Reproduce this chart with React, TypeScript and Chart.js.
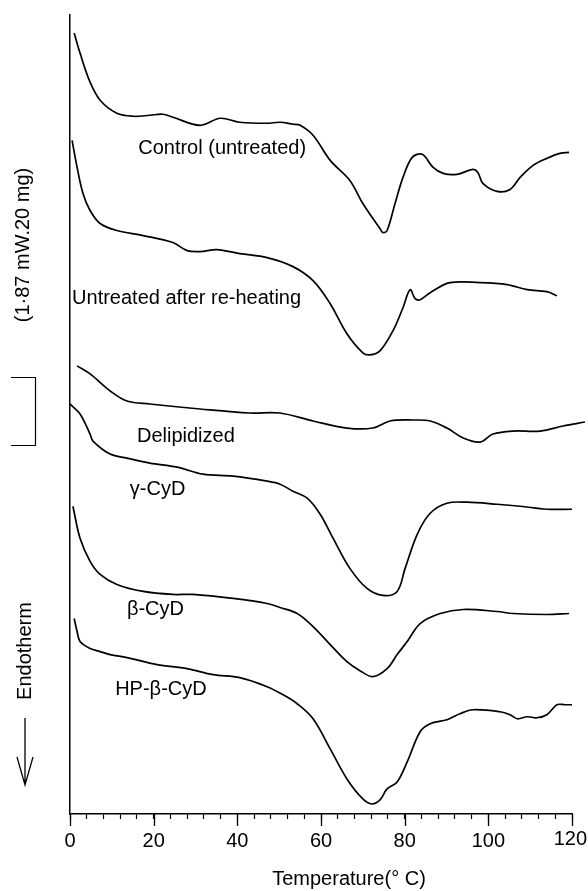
import React, { useEffect, useRef } from 'react';
import { Chart, registerables } from 'chart.js';

Chart.register(...registerables);

const FONT = '"Liberation Sans", Arial, Helvetica, sans-serif';

// Temperature (°C) and heat-flow signal (arbitrary offset units) per thermogram
const controlT = [1.0, 2.4, 4.8, 7.2, 11.2, 15.1, 19.1, 22.2, 24.6, 31.1, 35.9, 40.6, 47.1, 50.2, 53.3, 55.0, 58.1, 62.2, 66.9, 70.0, 74.1, 74.8, 75.8, 77.7, 79.6, 81.8, 84.2, 86.8, 89.2, 92.5, 96.3, 97.5, 98.7, 102.1, 105.2, 107.6, 110.7, 114.0, 117.1, 119.3];
const controlV = [77.9, 75.9, 73.0, 71.2, 69.9, 69.6, 69.7, 69.8, 69.5, 68.7, 69.4, 69.0, 68.9, 69.0, 68.8, 68.7, 67.7, 65.2, 63.2, 60.9, 58.4, 58.0, 58.2, 60.9, 63.5, 65.5, 65.8, 64.5, 63.9, 63.8, 64.3, 64.0, 62.9, 62.1, 62.3, 63.5, 64.7, 65.4, 65.9, 66.0];

const reheatT = [0.5, 1.7, 3.1, 4.8, 7.2, 11.2, 17.5, 24.6, 28.0, 31.1, 35.1, 40.6, 47.1, 53.3, 58.1, 62.2, 66.2, 70.0, 71.7, 74.1, 77.2, 79.6, 81.3, 82.5, 83.7, 86.1, 90.8, 98.0, 104.5, 109.3, 114.0, 116.4];
const reheatV = [67.2, 64.5, 61.9, 60.2, 58.9, 58.2, 57.7, 57.0, 56.2, 56.1, 56.3, 55.9, 55.5, 54.6, 53.2, 50.9, 47.9, 46.0, 45.8, 46.2, 48.2, 50.5, 52.3, 51.4, 51.3, 52.0, 53.0, 53.0, 52.8, 52.3, 52.1, 51.7];

const delipT = [1.7, 4.8, 9.6, 13.6, 19.1, 31.1, 43.0, 50.2, 58.1, 66.2, 72.4, 76.5, 82.0, 86.1, 90.1, 94.0, 98.0, 101.1, 105.9, 112.4, 117.9, 123.1];
const delipV = [44.7, 43.9, 42.2, 41.2, 40.9, 40.4, 40.0, 40.0, 39.2, 38.5, 38.5, 39.2, 39.3, 39.2, 38.5, 37.5, 37.1, 37.9, 38.2, 38.2, 38.7, 39.1];

const gammaT = [0.0, 2.4, 4.8, 5.5, 9.6, 13.6, 19.1, 25.6, 31.8, 39.0, 47.1, 50.2, 53.3, 56.7, 59.8, 62.9, 66.9, 71.0, 74.8, 78.2, 80.1, 83.0, 86.1, 90.1, 94.9, 102.1, 107.6, 114.0, 120.0];
const gammaV = [40.9, 39.9, 37.9, 37.2, 35.9, 35.5, 35.0, 34.6, 33.9, 33.7, 33.2, 32.9, 32.2, 31.5, 29.9, 27.5, 24.5, 22.5, 21.8, 22.2, 24.5, 27.9, 30.0, 31.0, 31.1, 30.9, 30.7, 30.4, 30.4];

const betaT = [0.7, 2.4, 4.8, 7.2, 11.2, 17.5, 24.6, 29.4, 39.0, 47.1, 50.2, 54.3, 58.1, 62.2, 66.2, 69.3, 72.4, 75.8, 78.2, 80.6, 83.7, 88.5, 94.0, 102.1, 105.9, 114.0, 119.3];
const betaV = [30.7, 27.5, 25.2, 23.9, 22.9, 22.2, 21.9, 21.9, 21.5, 21.0, 20.6, 20.0, 18.7, 16.9, 15.2, 14.3, 13.7, 14.5, 15.9, 17.2, 19.0, 20.0, 20.4, 20.2, 20.0, 19.9, 20.0];

const hpT = [1.0, 1.7, 2.4, 4.8, 7.2, 9.6, 13.6, 20.8, 28.0, 34.2, 40.6, 47.1, 50.9, 54.3, 58.1, 62.2, 66.2, 70.0, 72.2, 74.1, 75.8, 78.2, 80.6, 83.7, 86.1, 90.1, 93.2, 96.3, 102.8, 105.2, 106.9, 109.3, 111.6, 114.0, 116.4, 118.3, 120.0];
const hpV = [19.5, 18.2, 17.2, 16.5, 16.2, 15.9, 15.6, 14.9, 14.5, 13.9, 13.6, 12.7, 11.9, 11.0, 9.5, 6.5, 3.5, 1.5, 1.0, 1.4, 2.5, 3.2, 5.2, 8.2, 9.0, 9.4, 10.0, 10.4, 10.2, 9.9, 9.5, 9.7, 9.6, 9.9, 10.9, 10.9, 10.9];

const curveNames = ['Control (untreated)', 'Untreated after re-heating', 'Delipidized', 'γ-CyD', 'β-CyD', 'HP-β-CyD'];
const seriesT = [controlT, reheatT, delipT, gammaT, betaT, hpT];
const seriesV = [controlV, reheatV, delipV, gammaV, betaV, hpV];

const xMajorTicks = [0, 20, 40, 60, 80, 100, 120];
const xMax = 120;
const xTitle = 'Temperature(° C)';
const scaleText = '(1·87 mW.20 mg)';
const endoText = 'Endotherm';

// label anchors (data coordinates, left-aligned)
const labelAnchorT = [16.3, 0.5, 16.0, 14.3, 13.6, 10.8];
const labelAnchorV = [66.4, 51.4, 37.7, 32.4, 20.4, 12.4];
const scaleBarTop = 43.6;
const scaleBarBottom = 36.8;

const decorPlugin = {
  id: 'decor',
  afterDraw(chart: any) {
    const { ctx, chartArea } = chart;
    const x = chart.scales.x;
    const y = chart.scales.y;
    ctx.save();
    ctx.strokeStyle = '#000';
    ctx.lineWidth = 1.3;
    // longer major ticks
    for (const v of xMajorTicks) {
      const px = Math.round(x.getPixelForValue(v)) + 0.5;
      ctx.beginPath();
      ctx.moveTo(px, chartArea.bottom);
      ctx.lineTo(px, chartArea.bottom + 12);
      ctx.stroke();
    }
    ctx.fillStyle = '#000';
    ctx.font = `20px ${FONT}`;
    // last tick label, nudged left so it stays on the page
    ctx.textAlign = 'right';
    ctx.textBaseline = 'top';
    ctx.fillText(String(xMax), 587, chartArea.bottom + 15);
    // axis title
    ctx.textAlign = 'center';
    ctx.textBaseline = 'middle';
    ctx.fillText(xTitle, (chartArea.left + chartArea.right) / 2 + 28, 879.5);
    // curve labels
    ctx.textAlign = 'left';
    ctx.textBaseline = 'middle';
    curveNames.forEach((t, i) => {
      ctx.fillText(t, x.getPixelForValue(labelAnchorT[i]), y.getPixelForValue(labelAnchorV[i]));
    });
    // scale bar
    const top = Math.round(y.getPixelForValue(scaleBarTop)) + 0.5;
    const bot = Math.round(y.getPixelForValue(scaleBarBottom)) + 0.5;
    ctx.lineWidth = 1.2;
    ctx.beginPath();
    ctx.moveTo(11, top); ctx.lineTo(36, top);
    ctx.moveTo(35.5, top); ctx.lineTo(35.5, bot);
    ctx.moveTo(11, bot); ctx.lineTo(36, bot);
    ctx.stroke();
    // rotated side texts
    ctx.textAlign = 'center';
    ctx.save();
    ctx.translate(23, 245);
    ctx.rotate(-Math.PI / 2);
    ctx.fillText(scaleText, 0, 0);
    ctx.restore();
    ctx.save();
    ctx.translate(25, 651);
    ctx.rotate(-Math.PI / 2);
    ctx.fillText(endoText, 0, 0);
    ctx.restore();
    // arrow
    ctx.lineWidth = 1.3;
    ctx.beginPath();
    ctx.moveTo(25, 718); ctx.lineTo(25, 785);
    ctx.moveTo(17, 757); ctx.lineTo(25, 785); ctx.lineTo(33, 757);
    ctx.stroke();
    ctx.restore();
  },
};

export default function App() {
  const ref = useRef<HTMLCanvasElement | null>(null);
  useEffect(() => {
    if (!ref.current) return;
    const datasets = seriesT.map((ts, i) => ({
      label: curveNames[i],
      data: ts.map((t, j) => ({ x: t, y: seriesV[i][j] })),
      borderColor: '#000',
      borderWidth: 1.7,
      pointRadius: 0,
      tension: 0.35,
      fill: false,
      clip: false as any,
    }));
    const chart = new Chart(ref.current, {
      type: 'line',
      data: { datasets },
      plugins: [decorPlugin],
      options: {
        animation: false,
        responsive: false,
        devicePixelRatio: 1,
        layout: { padding: { left: 70, top: 15, right: 16, bottom: 28 } },
        plugins: { legend: { display: false }, tooltip: { enabled: false } },
        scales: {
          x: {
            type: 'linear',
            min: 0,
            max: xMax,
            afterFit: (scale: any) => {
              scale.paddingRight = 0;
              scale.paddingLeft = 0;
            },
            ticks: {
              stepSize: 4,
              autoSkip: false,
              maxRotation: 0,
              padding: 10,
              color: '#000',
              font: { family: FONT, size: 20 },
              callback: (v: any) => (Number(v) % 20 === 0 && Number(v) !== xMax ? String(v) : ''),
            },
            grid: { drawOnChartArea: false, drawTicks: true, tickLength: 5, tickColor: '#000', tickWidth: 1.2 },
            border: { display: true, color: '#000', width: 1.5 },
            title: { display: false },
          },
          y: {
            type: 'linear',
            min: 0,
            max: 79.7,
            ticks: { display: false },
            grid: { display: false, drawTicks: false },
            border: { display: true, color: '#000', width: 1.5 },
          },
        },
      },
    });
    return () => chart.destroy();
  }, []);
  return (
    <div style={{ position: 'absolute', left: 0, top: 0, width: 588, height: 891, background: '#fff' }}>
      <canvas ref={ref} width={588} height={891} style={{ display: 'block' }} />
    </div>
  );
}
